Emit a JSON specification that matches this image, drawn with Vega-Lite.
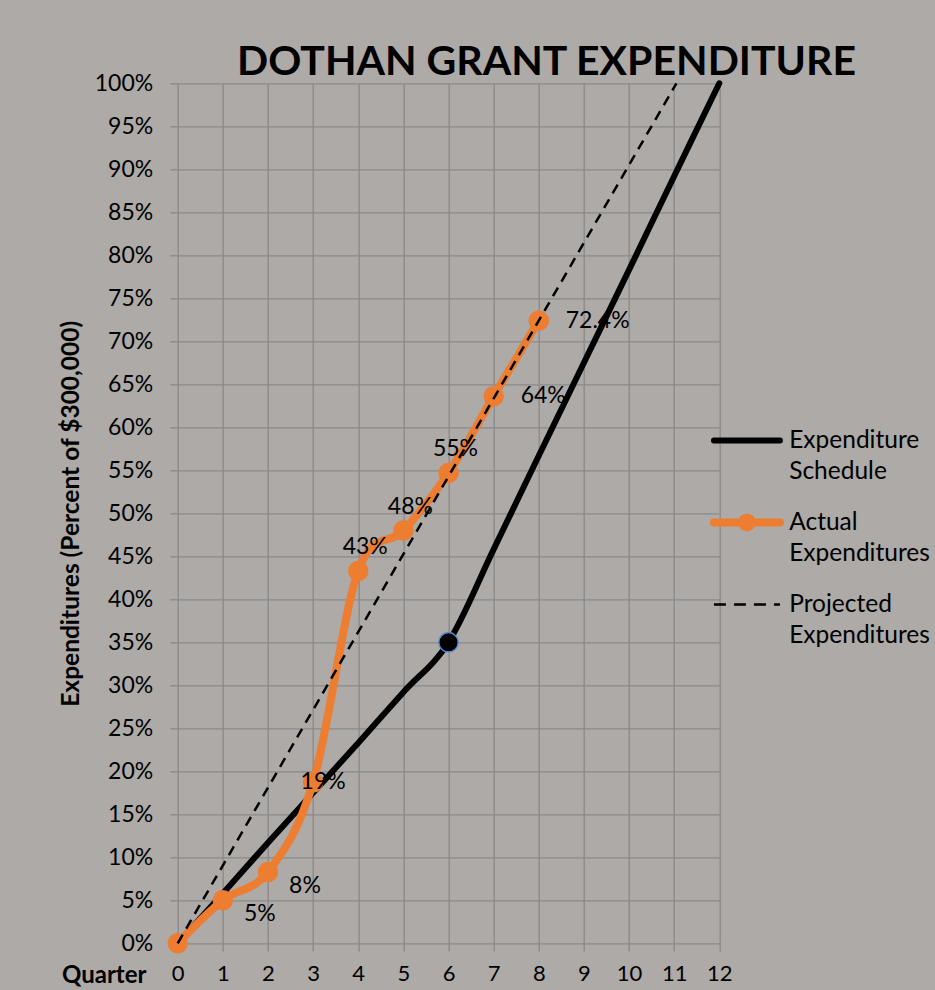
{
  "$schema": "https://vega.github.io/schema/vega-lite/v6.json",
  "width": 541.6,
  "height": 860,
  "autosize": {"type": "none"},
  "padding": {"left": 177.7, "top": 83.3, "right": 215.7, "bottom": 46.7},
  "background": "#ADAAA7",
  "config": {"view": {"stroke": null}, "font": "Lato"},
  "title": {
    "text": "DOTHAN GRANT EXPENDITURE",
    "font": "Lato",
    "fontSize": 41,
    "fontWeight": "bold",
    "color": "black",
    "anchor": "middle",
    "dx": 98,
    "dy": 19,
    "offset": 6
  },
  "data": {
    "values": [
      {"series": "Expenditure Schedule", "quarter": 0, "pct": 0},
      {"series": "Expenditure Schedule", "quarter": 1, "pct": 5.8},
      {"series": "Expenditure Schedule", "quarter": 2, "pct": 11.7},
      {"series": "Expenditure Schedule", "quarter": 3, "pct": 17.5},
      {"series": "Expenditure Schedule", "quarter": 4, "pct": 23.3},
      {"series": "Expenditure Schedule", "quarter": 5, "pct": 29.2},
      {"series": "Expenditure Schedule", "quarter": 6, "pct": 35},
      {"series": "Expenditure Schedule", "quarter": 7, "pct": 45.8},
      {"series": "Expenditure Schedule", "quarter": 8, "pct": 56.7},
      {"series": "Expenditure Schedule", "quarter": 9, "pct": 67.5},
      {"series": "Expenditure Schedule", "quarter": 10, "pct": 78.3},
      {"series": "Expenditure Schedule", "quarter": 11, "pct": 89.2},
      {"series": "Expenditure Schedule", "quarter": 12, "pct": 100},
      {"series": "Actual Expenditures", "quarter": 0, "pct": 0, "label": ""},
      {"series": "Actual Expenditures", "quarter": 1, "pct": 5, "label": "5%"},
      {"series": "Actual Expenditures", "quarter": 2, "pct": 8.3, "label": "8%"},
      {"series": "Actual Expenditures", "quarter": 3, "pct": 18.7, "label": "19%"},
      {"series": "Actual Expenditures", "quarter": 4, "pct": 43.3, "label": "43%"},
      {"series": "Actual Expenditures", "quarter": 5, "pct": 48, "label": "48%"},
      {"series": "Actual Expenditures", "quarter": 6, "pct": 54.7, "label": "55%"},
      {"series": "Actual Expenditures", "quarter": 7, "pct": 63.6, "label": "64%"},
      {"series": "Actual Expenditures", "quarter": 8, "pct": 72.4, "label": "72.4%"},
      {"series": "Projected Expenditures", "quarter": 0, "pct": 0},
      {"series": "Projected Expenditures", "quarter": 11.05, "pct": 100}
    ]
  },
  "encoding": {
    "x": {
      "field": "quarter",
      "type": "quantitative",
      "scale": {"domain": [0, 12], "nice": false, "zero": false},
      "axis": {
        "values": [0, 1, 2, 3, 4, 5, 6, 7, 8, 9, 10, 11, 12],
        "grid": true,
        "gridColor": "#8A8A8A",
        "gridWidth": 1.3,
        "tickColor": "#8A8A8A",
        "tickWidth": 1.3,
        "tickSize": 8,
        "domain": false,
        "labelFont": "Lato",
        "labelFontSize": 22,
        "labelColor": "black",
        "labelPadding": 12,
        "labelFlush": false,
        "labelOverlap": false,
        "title": "Quarter",
        "titleFont": "Lato",
        "titleFontSize": 24,
        "titleFontWeight": "bold",
        "titleColor": "black",
        "titleAngle": 0,
        "titleX": -74,
        "titleY": 32,
        "titleAlign": "center",
        "titleBaseline": "middle"
      }
    },
    "y": {
      "field": "pct",
      "type": "quantitative",
      "scale": {"domain": [0, 100], "nice": false},
      "axis": {
        "values": [0, 5, 10, 15, 20, 25, 30, 35, 40, 45, 50, 55, 60, 65, 70, 75, 80, 85, 90, 95, 100],
        "labelExpr": "datum.value + '%'",
        "grid": true,
        "gridColor": "#8A8A8A",
        "gridWidth": 1.3,
        "tickColor": "#8A8A8A",
        "tickWidth": 1.3,
        "tickSize": 8,
        "domain": false,
        "labelFont": "Lato",
        "labelFontSize": 23,
        "labelColor": "black",
        "labelPadding": 17,
        "labelFlush": false,
        "labelOverlap": false,
        "title": "Expenditures (Percent of $300,000)",
        "titleFont": "Lato",
        "titleFontSize": 24.5,
        "titleFontWeight": "bold",
        "titleColor": "black",
        "titleAngle": -90,
        "titleX": -106,
        "titleY": 430,
        "titleAlign": "center",
        "titleBaseline": "middle"
      }
    }
  },
  "layer": [
    {
      "transform": [{"filter": "datum.series === 'Expenditure Schedule'"}],
      "mark": {"type": "line", "strokeWidth": 6, "interpolate": "cardinal", "strokeCap": "round"},
      "encoding": {
        "color": {
          "field": "series",
          "type": "nominal",
          "scale": {
            "domain": ["Expenditure Schedule", "Actual Expenditures", "Projected Expenditures"],
            "range": ["#000000", "#ED7D31", "#000000"]
          },
          "legend": {
            "orient": "none",
            "legendX": 557,
            "legendY": 345,
            "title": null,
            "padding": 0,
            "symbolType": "stroke",
            "symbolSize": 4356,
            "labelFont": "Lato",
            "labelFontSize": 24.5,
            "labelColor": "black",
            "labelOffset": 30,
            "labelLimit": 300,
            "rowPadding": 26,
            "labelExpr": "split(datum.label, ' ')",
            "encode": {
              "symbols": {
                "update": {
                  "shape": {"signal": "datum.value === 'Actual Expenditures' ? 'M-1,0L1,0M0.15,0L0.106,0.106L0,0.15L-0.106,0.106L-0.15,0L-0.106,-0.106L0,-0.15L0.106,-0.106Z' : 'stroke'"},
                  "fill": {"signal": "datum.value === 'Actual Expenditures' ? '#ED7D31' : 'transparent'"},
                  "strokeJoin": {"value": "round"},
                  "strokeCap": {"signal": "datum.value === 'Projected Expenditures' ? 'butt' : 'round'"},
                  "strokeWidth": {"signal": "datum.value === 'Projected Expenditures' ? 2.5 : datum.value === 'Actual Expenditures' ? 8 : 6"},
                  "strokeDash": {"signal": "datum.value === 'Projected Expenditures' ? [12, 8] : [1, 0]"}
                }
              },
              "labels": {
                "update": {
                  "lineHeight": {"value": 31}
                }
              }
            }
          }
        }
      }
    },
    {
      "transform": [{"filter": "datum.series === 'Expenditure Schedule' && datum.quarter === 6"}],
      "mark": {"type": "circle", "size": 380, "fill": "#000000", "stroke": "#4F8FD0", "strokeWidth": 1.5, "opacity": 1}
    },
    {
      "transform": [{"filter": "datum.series === 'Actual Expenditures'"}],
      "mark": {"type": "line", "strokeWidth": 8, "interpolate": "cardinal"},
      "encoding": {"color": {"field": "series", "type": "nominal"}}
    },
    {
      "transform": [{"filter": "datum.series === 'Actual Expenditures'"}],
      "mark": {"type": "circle", "size": 420, "color": "#ED7D31", "opacity": 1}
    },
    {
      "transform": [{"filter": "datum.series === 'Projected Expenditures'"}],
      "mark": {"type": "line", "strokeWidth": 2.5, "strokeDash": [10, 7]},
      "encoding": {"color": {"field": "series", "type": "nominal"}}
    },
    {
      "transform": [{"filter": "datum.series === 'Actual Expenditures' && (datum.quarter === 1 || datum.quarter === 2)"}],
      "mark": {"type": "text", "font": "Lato", "fontSize": 23, "color": "black", "dx": 37, "dy": 14, "align": "center", "baseline": "middle"},
      "encoding": {"text": {"field": "label"}}
    },
    {
      "transform": [{"filter": "datum.series === 'Actual Expenditures' && datum.quarter === 3"}],
      "mark": {"type": "text", "font": "Lato", "fontSize": 23, "color": "black", "dx": 10, "dy": 0, "align": "center", "baseline": "middle"},
      "encoding": {"text": {"field": "label"}}
    },
    {
      "transform": [{"filter": "datum.series === 'Actual Expenditures' && datum.quarter >= 4 && datum.quarter <= 6"}],
      "mark": {"type": "text", "font": "Lato", "fontSize": 23, "color": "black", "dx": 7, "dy": -24, "align": "center", "baseline": "middle"},
      "encoding": {"text": {"field": "label"}}
    },
    {
      "transform": [{"filter": "datum.series === 'Actual Expenditures' && datum.quarter >= 7"}],
      "mark": {"type": "text", "font": "Lato", "fontSize": 23, "color": "black", "dx": 27, "dy": 0, "align": "left", "baseline": "middle"},
      "encoding": {"text": {"field": "label"}}
    }
  ]
}
